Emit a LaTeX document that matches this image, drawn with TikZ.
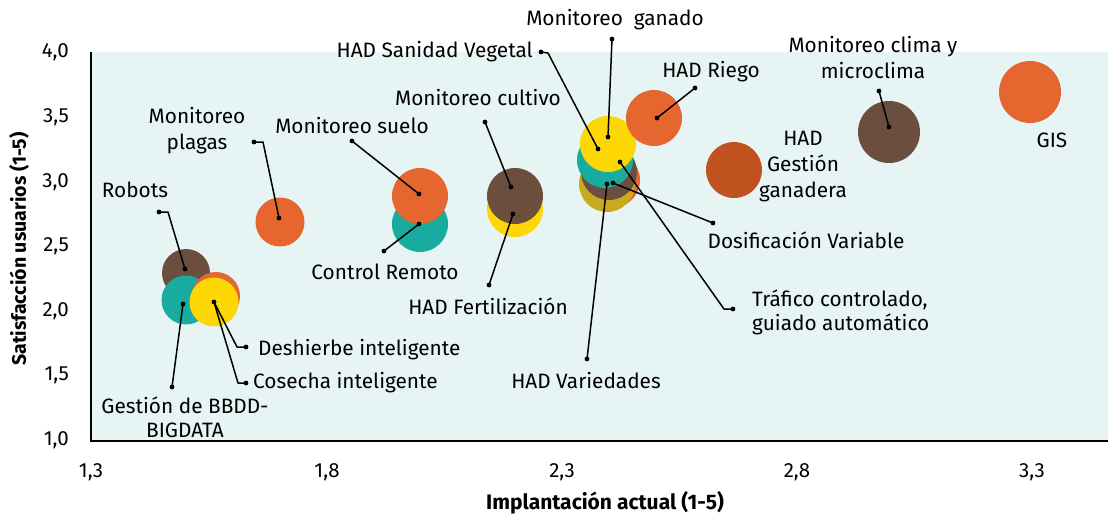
\documentclass[tikz,border=0pt]{standalone}
\usepackage{fontspec}
\setmainfont{Fira Sans}
\definecolor{bgc}{HTML}{E6F5F4}
\definecolor{orc}{HTML}{E5662F}
\definecolor{dorc}{HTML}{C05220}
\definecolor{brc}{HTML}{6B4E3D}
\definecolor{tlc}{HTML}{17AC9F}
\definecolor{ylc}{HTML}{FDD704}
\definecolor{olc}{HTML}{C9AA1E}
\begin{document}
\begin{tikzpicture}[x=1pt,y=-1pt,
  bub/.style={circle, inner sep=0pt, draw=none},
  lead/.style={line width=1.5pt, line join=round},
  lbl/.style={font=\fontsize{20.8}{26}\selectfont, inner sep=0pt, align=center},
  lbl2/.style={font=\fontsize{20.8}{24}\selectfont, inner sep=0pt},
  tick/.style={font=\fontsize{20.5}{24}\selectfont, inner sep=0pt},
  ttl/.style={font=\fontsize{21}{24}\selectfont\bfseries, inner sep=0pt},
  ttly/.style={font=\fontsize{19.5}{24}\selectfont\bfseries, inner sep=0pt}]
\useasboundingbox (0,0) rectangle (1108,514);
\fill[bgc] (92,52) rectangle (1108,440);
\draw[line width=2pt] (91,52) -- (91,441) -- (1108,441);
% ticks
\foreach \v/\y in {{4,0}/52,{3,5}/117,{3,0}/182,{2,5}/246,{2,0}/311,{1,5}/375,{1,0}/440}
  \node[tick, anchor=east] at (69,\y) {\v};
\node[tick] (t1) at (91,472) {1,3};
\node[tick] (t2) at (327,472) {1,8};
\node[tick] (t3) at (562,472) {2,3};
\node[tick] (t4) at (797,472) {2,8};
\node[tick] (t5) at (1032,472) {3,3};
\node[ttl] (xt) at (605,503) {Implantación actual (1-5)};
\node[ttly, rotate=90] (yt) at (19,249) {Satisfacción usuarios (1-5)};
% bubbles
\node[bub, fill=brc, minimum size=48] (robots) at (186,273) {};
\node[bub, fill=tlc, minimum size=49] (bbdd) at (186,300) {};
\node[bub, fill=orc, minimum size=48] (desh) at (216,296) {};
\node[bub, fill=ylc, minimum size=49] (cos) at (214,302) {};
\node[bub, fill=orc, minimum size=49] (plagas) at (280,222) {};
\node[bub, fill=tlc, minimum size=56] (control) at (420,224) {};
\node[bub, fill=orc, minimum size=56] (suelo) at (420,196) {};
\node[bub, fill=ylc, minimum size=56] (fert) at (515,209) {};
\node[bub, fill=brc, minimum size=56] (cultivo) at (515,196) {};
\node[bub, fill=orc, minimum size=56] (trafb) at (612,180) {};
\node[bub, fill=olc, minimum size=56] (var) at (607,184) {};
\node[bub, fill=brc, minimum size=56] (dosif) at (609,172) {};
\node[bub, fill=tlc, minimum size=56] (sanid) at (605,160) {};
\node[bub, fill=ylc, minimum size=56] (ganado) at (608,144) {};
\node[bub, fill=orc, minimum size=56] (riego) at (654,118) {};
\node[bub, fill=dorc, minimum size=56] (ganad) at (734,170) {};
\node[bub, fill=brc, minimum size=62] (clima) at (889,132) {};
\node[bub, fill=orc, minimum size=62] (gis) at (1030,92) {};
% leader points
\coordinate (pA1) at (254,142); \coordinate (pA2) at (263,142); \coordinate (pA3) at (279,218);
\coordinate (rA1) at (159,212); \coordinate (rA2) at (168,212); \coordinate (rA3) at (185,269);
\coordinate (sA1) at (352,141); \coordinate (sA2) at (419,194);
\coordinate (cA1) at (384,251); \coordinate (cA2) at (419,224);
\coordinate (kA1) at (485,122); \coordinate (kA2) at (511,187);
\coordinate (fA1) at (489,285); \coordinate (fA2) at (513,214);
\coordinate (vA1) at (541,52); \coordinate (vA2) at (548,53); \coordinate (vA3) at (598,149);
\coordinate (gA1) at (612,39); \coordinate (gA2) at (608,137);
\coordinate (hA1) at (695,88); \coordinate (hA2) at (657,118);
\coordinate (dA1) at (713,223); \coordinate (dA2) at (613,183);
\coordinate (tA1) at (733,309); \coordinate (tA2) at (724,309); \coordinate (tA3) at (620,162);
\coordinate (wA1) at (587,359); \coordinate (wA2) at (607,184);
\coordinate (bA1) at (172,387); \coordinate (bA2) at (183,304);
\coordinate (eA1) at (246,347); \coordinate (eA2) at (237,347); \coordinate (eA3) at (214,302);
\coordinate (oA1) at (246,383); \coordinate (oA2) at (238,383);
\coordinate (mA1) at (879,91); \coordinate (mA2) at (889,127);
\draw[lead] (pA1) -- (pA2) -- (pA3);
\draw[lead] (rA1) -- (rA2) -- (rA3);
\draw[lead] (sA1) -- (sA2);
\draw[lead] (cA1) -- (cA2);
\draw[lead] (kA1) -- (kA2);
\draw[lead] (fA1) -- (fA2);
\draw[lead] (vA1) -- (vA2) -- (vA3);
\draw[lead] (gA1) -- (gA2);
\draw[lead] (hA1) -- (hA2);
\draw[lead] (dA1) -- (dA2);
\draw[lead] (tA1) -- (tA2) -- (tA3);
\draw[lead] (wA1) -- (wA2);
\draw[lead] (bA1) -- (bA2);
\draw[lead] (eA1) -- (eA2) -- (eA3);
\draw[lead] (oA1) -- (oA2) -- (eA3);
\draw[lead] (mA1) -- (mA2);
\foreach \p in {pA1,pA3,rA1,rA3,sA1,sA2,cA1,cA2,kA1,kA2,fA1,fA2,vA1,vA3,gA1,gA2,hA1,hA2,dA1,dA2,tA1,tA3,wA1,wA2,bA1,bA2,eA1,eA3,oA1,mA1,mA2}
  \fill (\p) circle (2.4);
% labels
\node[lbl] (lgan) at (615,20) {Monitoreo\ \ ganado};
\node[lbl, anchor=east] (lsan) at (533,52) {HAD Sanidad Vegetal};
\node[lbl] (lrie) at (711,72) {HAD Riego};
\node[lbl] (lcli) at (873,58) {Monitoreo clima y\\microclima};
\node[lbl] (lcul) at (478,98) {Monitoreo cultivo};
\node[lbl] (lsue) at (352,126) {Monitoreo suelo};
\node[lbl] (lpla) at (197,131) {Monitoreo\\plagas};
\node[lbl] (lrob) at (135,190) {Robots};
\node[lbl] (lgd) at (803,167) {HAD\\Gestión\\ganadera};
\node[lbl] (lgis) at (1052,140) {GIS};
\node[lbl] (ldos) at (806,240) {Dosificación Variable};
\node[lbl] (lcon) at (385,272) {Control Remoto};
\node[lbl] (lfer) at (488,306) {HAD Fertilización};
\node[lbl2, anchor=west, align=left] (ltra) at (752,312) {Tráfico controlado,\\guiado automático};
\node[lbl, anchor=west] (ldes) at (258,350) {Deshierbe inteligente};
\node[lbl, anchor=west] (lcos) at (253,383) {Cosecha inteligente};
\node[lbl] (lvar) at (586,381) {HAD Variedades};
\node[lbl2, align=center] (lbb) at (185,417) {Gestión de BBDD-\\BIGDATA};
\end{tikzpicture}
\end{document}
